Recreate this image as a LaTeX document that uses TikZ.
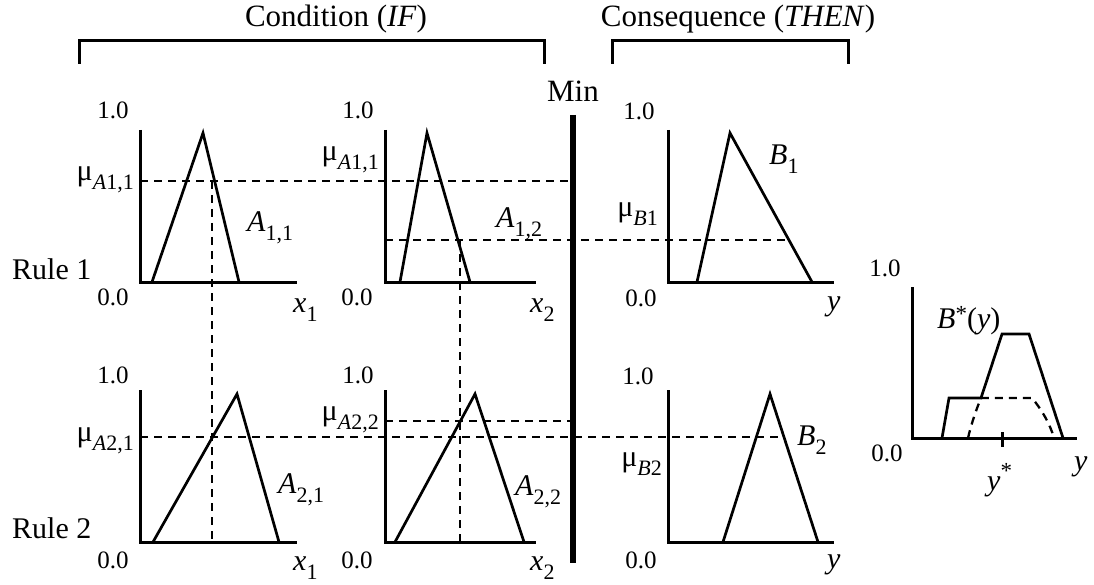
\documentclass[tikz,border=0pt]{standalone}
\usepackage{fontspec}
\setmainfont{Liberation Serif}
\newcommand\sbx[1]{\raisebox{-9pt}{\fontsize{22}{22}\selectfont #1}}
\newcommand\spx[2][4pt]{\raisebox{#1}{\fontsize{23}{23}\selectfont #2}}
\begin{document}
\begin{tikzpicture}[x=1pt,y=-1pt,
 axisln/.style={line width=3pt,line join=miter},
 memb/.style={line width=2.7pt,line join=miter},
 guide/.style={line width=2.3pt,dash pattern=on 8pt off 6pt},
 brk/.style={line width=3pt,line join=miter},
 lbl/.style={font=\fontsize{30}{34}\selectfont,inner sep=0pt},
 head/.style={font=\fontsize{31}{35}\selectfont,inner sep=0pt},
 val/.style={font=\fontsize{25}{28}\selectfont,inner sep=0pt}]
\useasboundingbox (0,0) rectangle (1094,585);

% headers and brackets
\node[head,anchor=base] (cond) at (336,27) {Condition (\textit{IF})};
\node[head,anchor=base] (cons) at (738,27) {Consequence (\textit{THEN})};
\coordinate (c1) at (79,64); \coordinate (c2) at (79,41);
\coordinate (c3) at (544,41); \coordinate (c4) at (544,64);
\draw[brk] (c1) -- (c2) -- (c3) -- (c4);
\coordinate (t1) at (612,64); \coordinate (t2) at (612,41);
\coordinate (t3) at (848,41); \coordinate (t4) at (848,64);
\draw[brk] (t1) -- (t2) -- (t3) -- (t4);

% Min bar
\node[head,anchor=base] (min) at (573,102) {Min};
\coordinate (bartop) at (573,115); \coordinate (barbot) at (573,563);
\draw[line width=6pt] (bartop) -- (barbot);

% rule labels
\node[lbl,anchor=base west] (rule1) at (12,279) {Rule 1};
\node[lbl,anchor=base west] (rule2) at (12,538) {Rule 2};

% ---------- guide lines (drawn first) ----------
\coordinate (g11a) at (140,181); \coordinate (g11b) at (573,181);
\draw[guide] (g11a) -- (g11b);
\coordinate (g12a) at (385,240); \coordinate (g12b) at (786,240);
\draw[guide] (g12a) -- (g12b);
\coordinate (v1a) at (212,181); \coordinate (v1b) at (212,542);
\draw[guide] (v1a) -- (v1b);
\coordinate (v2a) at (460,240); \coordinate (v2b) at (460,542);
\draw[guide] (v2a) -- (v2b);
\coordinate (g22a) at (385,421); \coordinate (g22b) at (573,421);
\draw[guide] (g22a) -- (g22b);
\coordinate (g21a) at (140,437); \coordinate (g21b) at (784,437);
\draw[guide] (g21a) -- (g21b);

% ---------- Rule 1, A11 ----------
\coordinate (a11y) at (140,130); \coordinate (a11o) at (140,282); \coordinate (a11x) at (297,282);
\draw[axisln] (a11y) -- (a11o) -- (a11x);
\coordinate (a11l) at (152,282); \coordinate (a11p) at (203,133); \coordinate (a11r) at (239,282);
\draw[memb] (a11l) -- (a11p) -- (a11r);
\node[val] (a11one) at (113,110) {1.0};
\node[val] (a11zero) at (113,297) {0.0};
\node[lbl,anchor=base east] (mu11a) at (134,181) {μ\sbx{\textit{A}1,1}};
\node[lbl,anchor=base west] (A11) at (247,232) {\textit{A}\sbx{1,1}};
\node[lbl,anchor=base west] (x1a) at (293,312) {\textit{x}\sbx{1}};

% ---------- Rule 1, A12 ----------
\coordinate (a12y) at (385,130); \coordinate (a12o) at (385,282); \coordinate (a12x) at (536,282);
\draw[axisln] (a12y) -- (a12o) -- (a12x);
\coordinate (a12l) at (400,282); \coordinate (a12p) at (427,133); \coordinate (a12r) at (470,282);
\draw[memb] (a12l) -- (a12p) -- (a12r);
\node[val] (a12one) at (358,110) {1.0};
\node[val] (a12zero) at (357,297) {0.0};
\node[lbl,anchor=base east] (mu11b) at (379,161) {μ\sbx{\textit{A}1,1}};
\node[lbl,anchor=base west] (A12) at (496,228) {\textit{A}\sbx{1,2}};
\node[lbl,anchor=base west] (x2a) at (530,312) {\textit{x}\sbx{2}};

% ---------- Rule 1, B1 ----------
\coordinate (b1y) at (668,130); \coordinate (b1o) at (668,282); \coordinate (b1x) at (834,282);
\draw[axisln] (b1y) -- (b1o) -- (b1x);
\coordinate (b1l) at (697,282); \coordinate (b1p) at (730,133); \coordinate (b1r) at (812,282);
\draw[memb] (b1l) -- (b1p) -- (b1r);
\node[val] (b1one) at (639,111) {1.0};
\node[val] (b1zero) at (641,298) {0.0};
\node[lbl,anchor=base east] (mub1) at (658,217) {μ\sbx{\textit{B}1}};
\node[lbl,anchor=base west] (B1) at (769,165) {\textit{B}\sbx{1}};
\node[lbl,anchor=base west] (ya) at (827,310) {\textit{y}};

% ---------- Rule 2, A21 ----------
\coordinate (a21y) at (140,390); \coordinate (a21o) at (140,542); \coordinate (a21x) at (297,542);
\draw[axisln] (a21y) -- (a21o) -- (a21x);
\coordinate (a21l) at (153,542); \coordinate (a21p) at (237,394); \coordinate (a21r) at (279,542);
\draw[memb] (a21l) -- (a21p) -- (a21r);
\node[val] (a21one) at (113,375) {1.0};
\node[val] (a21zero) at (113,560) {0.0};
\node[lbl,anchor=base east] (mu21) at (134,441) {μ\sbx{\textit{A}2,1}};
\node[lbl,anchor=base west] (A21) at (278,493) {\textit{A}\sbx{2,1}};
\node[lbl,anchor=base west] (x1b) at (293,570) {\textit{x}\sbx{1}};

% ---------- Rule 2, A22 ----------
\coordinate (a22y) at (385,390); \coordinate (a22o) at (385,542); \coordinate (a22x) at (536,542);
\draw[axisln] (a22y) -- (a22o) -- (a22x);
\coordinate (a22l) at (395,542); \coordinate (a22p) at (475,394); \coordinate (a22r) at (524,542);
\draw[memb] (a22l) -- (a22p) -- (a22r);
\node[val] (a22one) at (358,375) {1.0};
\node[val] (a22zero) at (357,560) {0.0};
\node[lbl,anchor=base east] (mu22) at (379,420) {μ\sbx{\textit{A}2,2}};
\node[lbl,anchor=base west] (A22) at (515,495) {\textit{A}\sbx{2,2}};
\node[lbl,anchor=base west] (x2b) at (530,570) {\textit{x}\sbx{2}};

% ---------- Rule 2, B2 ----------
\coordinate (b2y) at (668,390); \coordinate (b2o) at (668,542); \coordinate (b2x) at (834,542);
\draw[axisln] (b2y) -- (b2o) -- (b2x);
\coordinate (b2l) at (723,542); \coordinate (b2p) at (770,394); \coordinate (b2r) at (818,542);
\draw[memb] (b2l) -- (b2p) -- (b2r);
\node[val] (b2one) at (638,376) {1.0};
\node[val] (b2zero) at (641,560) {0.0};
\node[lbl,anchor=base east] (mub2) at (662,466) {μ\sbx{\textit{B}2}};
\node[lbl,anchor=base west] (B2) at (797,445) {\textit{B}\sbx{2}};
\node[lbl,anchor=base west] (yb) at (827,568) {\textit{y}};

% ---------- Output ----------
\coordinate (oy) at (912,287); \coordinate (oo) at (912,438); \coordinate (ox) at (1077,438);
\draw[axisln] (oy) -- (oo) -- (ox);
\coordinate (tk1) at (1002,432); \coordinate (tk2) at (1002,447);
\draw[line width=3pt] (tk1) -- (tk2);
\coordinate (s1) at (942,438); \coordinate (s2) at (949,398); \coordinate (s3) at (981,398);
\coordinate (s4) at (1002,334); \coordinate (s5) at (1029,334); \coordinate (s6) at (1063,438);
\draw[memb] (s1) -- (s2) -- (s3) -- (s4) -- (s5) -- (s6);
\coordinate (d1) at (968,438); \coordinate (d2) at (1032,398); \coordinate (d3) at (1054,438);
\draw[guide] (d1) .. controls (971,425) and (976,410) .. (s3) -- (d2) .. controls (1042,410) and (1050,424) .. (d3);
\node[val] (oone) at (885,268) {1.0};
\node[val] (ozero) at (887,453) {0.0};
\node[lbl,anchor=base west] (bstar) at (937,328) {\textit{B}\spx[7pt]{*}(\textit{y})};
\node[lbl,anchor=base west] (ystar) at (987,490) {\textit{y}\spx[12pt]{*}};
\node[lbl,anchor=base west] (yc) at (1074,470) {\textit{y}};
\end{tikzpicture}
\end{document}
